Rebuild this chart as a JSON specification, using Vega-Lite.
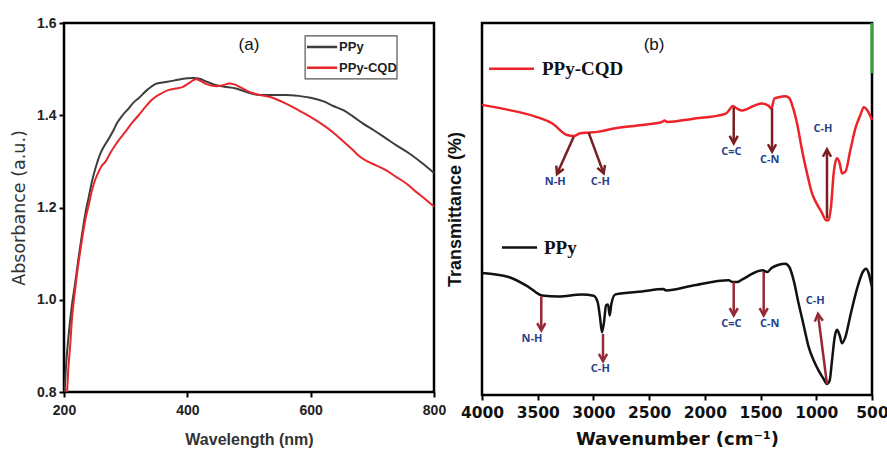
{
  "$schema": "https://vega.github.io/schema/vega-lite/v6.json",
  "background": "white",
  "padding": {"left": 9, "top": 14, "right": 5, "bottom": 2},
  "config": {"view": {"stroke": "black", "strokeWidth": 2.5}},
  "spacing": 48,
  "bounds": "flush",
  "resolve": {"scale": {"x": "independent", "y": "independent", "color": "independent"}},
  "datasets": {
    "uv": [
      {"wavelength": 201, "absorbance": 0.80, "sample": "PPy"},
      {"wavelength": 203, "absorbance": 0.85, "sample": "PPy"},
      {"wavelength": 208, "absorbance": 0.93, "sample": "PPy"},
      {"wavelength": 213, "absorbance": 0.99, "sample": "PPy"},
      {"wavelength": 218, "absorbance": 1.035, "sample": "PPy"},
      {"wavelength": 223, "absorbance": 1.085, "sample": "PPy"},
      {"wavelength": 229, "absorbance": 1.14, "sample": "PPy"},
      {"wavelength": 235, "absorbance": 1.19, "sample": "PPy"},
      {"wavelength": 240, "absorbance": 1.222, "sample": "PPy"},
      {"wavelength": 246, "absorbance": 1.26, "sample": "PPy"},
      {"wavelength": 251, "absorbance": 1.285, "sample": "PPy"},
      {"wavelength": 259, "absorbance": 1.317, "sample": "PPy"},
      {"wavelength": 266, "absorbance": 1.335, "sample": "PPy"},
      {"wavelength": 273, "absorbance": 1.35, "sample": "PPy"},
      {"wavelength": 280, "absorbance": 1.367, "sample": "PPy"},
      {"wavelength": 286, "absorbance": 1.383, "sample": "PPy"},
      {"wavelength": 295, "absorbance": 1.40, "sample": "PPy"},
      {"wavelength": 305, "absorbance": 1.415, "sample": "PPy"},
      {"wavelength": 313, "absorbance": 1.428, "sample": "PPy"},
      {"wavelength": 321, "absorbance": 1.437, "sample": "PPy"},
      {"wavelength": 335, "absorbance": 1.455, "sample": "PPy"},
      {"wavelength": 349, "absorbance": 1.468, "sample": "PPy"},
      {"wavelength": 360, "absorbance": 1.471, "sample": "PPy"},
      {"wavelength": 370, "absorbance": 1.473, "sample": "PPy"},
      {"wavelength": 385, "absorbance": 1.477, "sample": "PPy"},
      {"wavelength": 400, "absorbance": 1.48, "sample": "PPy"},
      {"wavelength": 410, "absorbance": 1.481, "sample": "PPy"},
      {"wavelength": 420, "absorbance": 1.479, "sample": "PPy"},
      {"wavelength": 433, "absorbance": 1.472, "sample": "PPy"},
      {"wavelength": 447, "absorbance": 1.465, "sample": "PPy"},
      {"wavelength": 460, "absorbance": 1.462, "sample": "PPy"},
      {"wavelength": 479, "absorbance": 1.458, "sample": "PPy"},
      {"wavelength": 497, "absorbance": 1.45, "sample": "PPy"},
      {"wavelength": 517, "absorbance": 1.444, "sample": "PPy"},
      {"wavelength": 540, "absorbance": 1.444, "sample": "PPy"},
      {"wavelength": 560, "absorbance": 1.444, "sample": "PPy"},
      {"wavelength": 580, "absorbance": 1.442, "sample": "PPy"},
      {"wavelength": 600, "absorbance": 1.438, "sample": "PPy"},
      {"wavelength": 621, "absorbance": 1.43, "sample": "PPy"},
      {"wavelength": 637, "absorbance": 1.42, "sample": "PPy"},
      {"wavelength": 653, "absorbance": 1.411, "sample": "PPy"},
      {"wavelength": 668, "absorbance": 1.398, "sample": "PPy"},
      {"wavelength": 685, "absorbance": 1.382, "sample": "PPy"},
      {"wavelength": 703, "absorbance": 1.367, "sample": "PPy"},
      {"wavelength": 722, "absorbance": 1.35, "sample": "PPy"},
      {"wavelength": 741, "absorbance": 1.333, "sample": "PPy"},
      {"wavelength": 760, "absorbance": 1.317, "sample": "PPy"},
      {"wavelength": 780, "absorbance": 1.297, "sample": "PPy"},
      {"wavelength": 800, "absorbance": 1.275, "sample": "PPy"},
      {"wavelength": 205, "absorbance": 0.80, "sample": "PPy-CQD"},
      {"wavelength": 207, "absorbance": 0.85, "sample": "PPy-CQD"},
      {"wavelength": 210, "absorbance": 0.90, "sample": "PPy-CQD"},
      {"wavelength": 213, "absorbance": 0.96, "sample": "PPy-CQD"},
      {"wavelength": 217, "absorbance": 1.01, "sample": "PPy-CQD"},
      {"wavelength": 221, "absorbance": 1.055, "sample": "PPy-CQD"},
      {"wavelength": 228, "absorbance": 1.12, "sample": "PPy-CQD"},
      {"wavelength": 235, "absorbance": 1.176, "sample": "PPy-CQD"},
      {"wavelength": 240, "absorbance": 1.205, "sample": "PPy-CQD"},
      {"wavelength": 245, "absorbance": 1.235, "sample": "PPy-CQD"},
      {"wavelength": 250, "absorbance": 1.258, "sample": "PPy-CQD"},
      {"wavelength": 256, "absorbance": 1.277, "sample": "PPy-CQD"},
      {"wavelength": 261, "absorbance": 1.29, "sample": "PPy-CQD"},
      {"wavelength": 267, "absorbance": 1.299, "sample": "PPy-CQD"},
      {"wavelength": 275, "absorbance": 1.318, "sample": "PPy-CQD"},
      {"wavelength": 283, "absorbance": 1.335, "sample": "PPy-CQD"},
      {"wavelength": 291, "absorbance": 1.35, "sample": "PPy-CQD"},
      {"wavelength": 300, "absorbance": 1.365, "sample": "PPy-CQD"},
      {"wavelength": 310, "absorbance": 1.383, "sample": "PPy-CQD"},
      {"wavelength": 321, "absorbance": 1.40, "sample": "PPy-CQD"},
      {"wavelength": 332, "absorbance": 1.418, "sample": "PPy-CQD"},
      {"wavelength": 343, "absorbance": 1.434, "sample": "PPy-CQD"},
      {"wavelength": 356, "absorbance": 1.446, "sample": "PPy-CQD"},
      {"wavelength": 370, "absorbance": 1.455, "sample": "PPy-CQD"},
      {"wavelength": 381, "absorbance": 1.458, "sample": "PPy-CQD"},
      {"wavelength": 392, "absorbance": 1.461, "sample": "PPy-CQD"},
      {"wavelength": 403, "absorbance": 1.47, "sample": "PPy-CQD"},
      {"wavelength": 414, "absorbance": 1.478, "sample": "PPy-CQD"},
      {"wavelength": 422, "absorbance": 1.474, "sample": "PPy-CQD"},
      {"wavelength": 430, "absorbance": 1.468, "sample": "PPy-CQD"},
      {"wavelength": 447, "absorbance": 1.463, "sample": "PPy-CQD"},
      {"wavelength": 458, "absorbance": 1.465, "sample": "PPy-CQD"},
      {"wavelength": 468, "absorbance": 1.469, "sample": "PPy-CQD"},
      {"wavelength": 476, "absorbance": 1.467, "sample": "PPy-CQD"},
      {"wavelength": 484, "absorbance": 1.462, "sample": "PPy-CQD"},
      {"wavelength": 497, "absorbance": 1.453, "sample": "PPy-CQD"},
      {"wavelength": 511, "absorbance": 1.446, "sample": "PPy-CQD"},
      {"wavelength": 533, "absorbance": 1.44, "sample": "PPy-CQD"},
      {"wavelength": 547, "absorbance": 1.433, "sample": "PPy-CQD"},
      {"wavelength": 560, "absorbance": 1.425, "sample": "PPy-CQD"},
      {"wavelength": 580, "absorbance": 1.411, "sample": "PPy-CQD"},
      {"wavelength": 599, "absorbance": 1.397, "sample": "PPy-CQD"},
      {"wavelength": 620, "absorbance": 1.379, "sample": "PPy-CQD"},
      {"wavelength": 637, "absorbance": 1.362, "sample": "PPy-CQD"},
      {"wavelength": 653, "absorbance": 1.343, "sample": "PPy-CQD"},
      {"wavelength": 668, "absorbance": 1.325, "sample": "PPy-CQD"},
      {"wavelength": 680, "absorbance": 1.31, "sample": "PPy-CQD"},
      {"wavelength": 692, "absorbance": 1.30, "sample": "PPy-CQD"},
      {"wavelength": 705, "absorbance": 1.292, "sample": "PPy-CQD"},
      {"wavelength": 722, "absorbance": 1.281, "sample": "PPy-CQD"},
      {"wavelength": 738, "absorbance": 1.267, "sample": "PPy-CQD"},
      {"wavelength": 755, "absorbance": 1.252, "sample": "PPy-CQD"},
      {"wavelength": 770, "absorbance": 1.235, "sample": "PPy-CQD"},
      {"wavelength": 785, "absorbance": 1.219, "sample": "PPy-CQD"},
      {"wavelength": 800, "absorbance": 1.202, "sample": "PPy-CQD"}
    ],
    "ftir": [
      {"wn": 4000, "t": 86.8, "sample": "PPy-CQD"},
      {"wn": 3761, "t": 85.3, "sample": "PPy-CQD"},
      {"wn": 3521, "t": 83.3, "sample": "PPy-CQD"},
      {"wn": 3372, "t": 81.3, "sample": "PPy-CQD"},
      {"wn": 3237, "t": 77.8, "sample": "PPy-CQD"},
      {"wn": 3177, "t": 77.5, "sample": "PPy-CQD"},
      {"wn": 3118, "t": 78.3, "sample": "PPy-CQD"},
      {"wn": 3043, "t": 78.5, "sample": "PPy-CQD"},
      {"wn": 2953, "t": 78.8, "sample": "PPy-CQD"},
      {"wn": 2803, "t": 79.8, "sample": "PPy-CQD"},
      {"wn": 2564, "t": 80.8, "sample": "PPy-CQD"},
      {"wn": 2385, "t": 81.7, "sample": "PPy-CQD"},
      {"wn": 2361, "t": 82.1, "sample": "PPy-CQD"},
      {"wn": 2337, "t": 81.7, "sample": "PPy-CQD"},
      {"wn": 2115, "t": 82.6, "sample": "PPy-CQD"},
      {"wn": 1816, "t": 84.1, "sample": "PPy-CQD"},
      {"wn": 1780, "t": 85.3, "sample": "PPy-CQD"},
      {"wn": 1750, "t": 86.5, "sample": "PPy-CQD"},
      {"wn": 1711, "t": 85.7, "sample": "PPy-CQD"},
      {"wn": 1667, "t": 85.1, "sample": "PPy-CQD"},
      {"wn": 1547, "t": 86.7, "sample": "PPy-CQD"},
      {"wn": 1487, "t": 87.2, "sample": "PPy-CQD"},
      {"wn": 1427, "t": 86.5, "sample": "PPy-CQD"},
      {"wn": 1403, "t": 85.7, "sample": "PPy-CQD"},
      {"wn": 1376, "t": 88.7, "sample": "PPy-CQD"},
      {"wn": 1338, "t": 89.1, "sample": "PPy-CQD"},
      {"wn": 1278, "t": 89.4, "sample": "PPy-CQD"},
      {"wn": 1242, "t": 88.8, "sample": "PPy-CQD"},
      {"wn": 1212, "t": 86.3, "sample": "PPy-CQD"},
      {"wn": 1173, "t": 81.3, "sample": "PPy-CQD"},
      {"wn": 1128, "t": 73.3, "sample": "PPy-CQD"},
      {"wn": 1083, "t": 66.3, "sample": "PPy-CQD"},
      {"wn": 1038, "t": 60.3, "sample": "PPy-CQD"},
      {"wn": 994, "t": 57.1, "sample": "PPy-CQD"},
      {"wn": 949, "t": 54.5, "sample": "PPy-CQD"},
      {"wn": 913, "t": 52.3, "sample": "PPy-CQD"},
      {"wn": 889, "t": 52.3, "sample": "PPy-CQD"},
      {"wn": 868, "t": 56.3, "sample": "PPy-CQD"},
      {"wn": 844, "t": 66.3, "sample": "PPy-CQD"},
      {"wn": 814, "t": 70.8, "sample": "PPy-CQD"},
      {"wn": 790, "t": 69.3, "sample": "PPy-CQD"},
      {"wn": 769, "t": 66.3, "sample": "PPy-CQD"},
      {"wn": 739, "t": 66.8, "sample": "PPy-CQD"},
      {"wn": 694, "t": 73.3, "sample": "PPy-CQD"},
      {"wn": 649, "t": 79.8, "sample": "PPy-CQD"},
      {"wn": 604, "t": 83.8, "sample": "PPy-CQD"},
      {"wn": 574, "t": 86.1, "sample": "PPy-CQD"},
      {"wn": 544, "t": 85.3, "sample": "PPy-CQD"},
      {"wn": 520, "t": 83.8, "sample": "PPy-CQD"},
      {"wn": 500, "t": 82.3, "sample": "PPy-CQD"},
      {"wn": 4000, "t": 36.5, "sample": "PPy"},
      {"wn": 3761, "t": 35.3, "sample": "PPy"},
      {"wn": 3581, "t": 32.3, "sample": "PPy"},
      {"wn": 3462, "t": 29.8, "sample": "PPy"},
      {"wn": 3312, "t": 29.5, "sample": "PPy"},
      {"wn": 3103, "t": 30.1, "sample": "PPy"},
      {"wn": 2998, "t": 29.7, "sample": "PPy"},
      {"wn": 2962, "t": 27.8, "sample": "PPy"},
      {"wn": 2941, "t": 23.3, "sample": "PPy"},
      {"wn": 2923, "t": 18.8, "sample": "PPy"},
      {"wn": 2905, "t": 21.8, "sample": "PPy"},
      {"wn": 2887, "t": 26.8, "sample": "PPy"},
      {"wn": 2869, "t": 27.1, "sample": "PPy"},
      {"wn": 2854, "t": 23.8, "sample": "PPy"},
      {"wn": 2839, "t": 27.3, "sample": "PPy"},
      {"wn": 2803, "t": 30.1, "sample": "PPy"},
      {"wn": 2564, "t": 31.0, "sample": "PPy"},
      {"wn": 2370, "t": 31.7, "sample": "PPy"},
      {"wn": 2349, "t": 31.3, "sample": "PPy"},
      {"wn": 2115, "t": 32.7, "sample": "PPy"},
      {"wn": 1786, "t": 34.3, "sample": "PPy"},
      {"wn": 1750, "t": 33.8, "sample": "PPy"},
      {"wn": 1711, "t": 33.8, "sample": "PPy"},
      {"wn": 1667, "t": 34.5, "sample": "PPy"},
      {"wn": 1517, "t": 37.1, "sample": "PPy"},
      {"wn": 1481, "t": 37.3, "sample": "PPy"},
      {"wn": 1442, "t": 36.8, "sample": "PPy"},
      {"wn": 1397, "t": 38.1, "sample": "PPy"},
      {"wn": 1278, "t": 39.3, "sample": "PPy"},
      {"wn": 1242, "t": 38.3, "sample": "PPy"},
      {"wn": 1203, "t": 34.3, "sample": "PPy"},
      {"wn": 1158, "t": 27.3, "sample": "PPy"},
      {"wn": 1113, "t": 20.8, "sample": "PPy"},
      {"wn": 1068, "t": 14.3, "sample": "PPy"},
      {"wn": 1023, "t": 10.3, "sample": "PPy"},
      {"wn": 979, "t": 7.3, "sample": "PPy"},
      {"wn": 934, "t": 4.8, "sample": "PPy"},
      {"wn": 904, "t": 3.3, "sample": "PPy"},
      {"wn": 880, "t": 4.3, "sample": "PPy"},
      {"wn": 859, "t": 10.3, "sample": "PPy"},
      {"wn": 835, "t": 17.3, "sample": "PPy"},
      {"wn": 814, "t": 19.5, "sample": "PPy"},
      {"wn": 790, "t": 17.8, "sample": "PPy"},
      {"wn": 769, "t": 15.5, "sample": "PPy"},
      {"wn": 739, "t": 17.3, "sample": "PPy"},
      {"wn": 694, "t": 23.8, "sample": "PPy"},
      {"wn": 634, "t": 31.8, "sample": "PPy"},
      {"wn": 583, "t": 36.8, "sample": "PPy"},
      {"wn": 553, "t": 37.8, "sample": "PPy"},
      {"wn": 529, "t": 36.3, "sample": "PPy"},
      {"wn": 511, "t": 33.8, "sample": "PPy"},
      {"wn": 500, "t": 32.3, "sample": "PPy"}
    ],
    "arrows": [
      {"wn": 3177, "t": 77.3, "wn2": 3327, "t2": 66.1, "angle": 24, "sample": "PPy-CQD"},
      {"wn": 3043, "t": 78.5, "wn2": 2908, "t2": 66.3, "angle": -20, "sample": "PPy-CQD"},
      {"wn": 1741, "t": 86.1, "wn2": 1741, "t2": 75.3, "angle": 0, "sample": "PPy-CQD"},
      {"wn": 1397, "t": 85.8, "wn2": 1397, "t2": 72.8, "angle": 0, "sample": "PPy-CQD"},
      {"wn": 904, "t": 52.8, "wn2": 904, "t2": 73.5, "angle": 180, "sample": "PPy-CQD"},
      {"wn": 3468, "t": 29.5, "wn2": 3468, "t2": 19.3, "angle": 0, "sample": "PPy"},
      {"wn": 2914, "t": 18.3, "wn2": 2914, "t2": 10.1, "angle": 0, "sample": "PPy"},
      {"wn": 1741, "t": 33.8, "wn2": 1741, "t2": 23.8, "angle": 0, "sample": "PPy"},
      {"wn": 1472, "t": 36.8, "wn2": 1472, "t2": 23.8, "angle": 0, "sample": "PPy"},
      {"wn": 904, "t": 3.3, "wn2": 985, "t2": 24.3, "angle": 173, "sample": "PPy"}
    ],
    "bonds": [
      {"wn": 3342, "t": 63.8, "label": "N-H"},
      {"wn": 2938, "t": 63.8, "label": "C-H"},
      {"wn": 1762, "t": 72.8, "label": "C=C"},
      {"wn": 1418, "t": 70.3, "label": "C-N"},
      {"wn": 940, "t": 79.5, "label": "C-H"},
      {"wn": 3551, "t": 16.8, "label": "N-H"},
      {"wn": 2938, "t": 7.8, "label": "C-H"},
      {"wn": 1762, "t": 21.3, "label": "C=C"},
      {"wn": 1418, "t": 21.3, "label": "C-N"},
      {"wn": 1009, "t": 28.0, "label": "C-H"}
    ]
  },
  "hconcat": [
    {
      "width": 370,
      "height": 369,
      "layer": [
        {
          "data": {"name": "uv"},
          "mark": {"type": "line", "strokeWidth": 2, "interpolate": "monotone"},
          "encoding": {
            "x": {"field": "wavelength", "type": "quantitative",
              "scale": {"domain": [200, 800], "nice": false, "zero": false},
              "axis": {"values": [200, 400, 600, 800], "title": "Wavelength (nm)", "domain": false, "grid": false, "labelFlush": false,
                "tickSize": 5, "tickWidth": 2, "tickColor": "black",
                "labelFont": "Liberation Sans", "labelFontWeight": "bold", "labelFontSize": 14, "labelColor": "#222", "labelPadding": 6,
                "titleFont": "Liberation Sans", "titleFontWeight": "bold", "titleFontSize": 16, "titleColor": "#333", "titlePadding": 14}},
            "y": {"field": "absorbance", "type": "quantitative",
              "scale": {"domain": [0.8, 1.6], "nice": false, "zero": false},
              "axis": {"values": [0.8, 1.0, 1.2, 1.4, 1.6], "format": ".1f", "title": "Absorbance (a.u.)", "domain": false, "grid": false, "labelFlush": false,
                "tickSize": 5, "tickWidth": 2, "tickColor": "black",
                "labelFont": "Liberation Sans", "labelFontWeight": "bold", "labelFontSize": 14, "labelColor": "#222", "labelPadding": 3,
                "titleFont": "DejaVu Sans", "titleFontWeight": "normal", "titleFontSize": 17.5, "titleColor": "#333", "titlePadding": 8}},
            "color": {"field": "sample", "type": "nominal",
              "scale": {"domain": ["PPy", "PPy-CQD"], "range": ["#3d3d3d", "#e8272c"]}, "legend": null}
          }
        },
        {
          "data": {"values": [{"wavelength": 591, "wl2": 740, "absorbance": 1.572, "ab2": 1.479}]},
          "mark": {"type": "rect", "fill": "white", "stroke": "#555", "strokeWidth": 1.2},
          "encoding": {
            "x": {"field": "wavelength", "type": "quantitative"},
            "x2": {"field": "wl2"},
            "y": {"field": "absorbance", "type": "quantitative"},
            "y2": {"field": "ab2"}
          }
        },
        {
          "data": {"values": [
            {"wavelength": 594, "wl2": 643, "absorbance": 1.548, "sample": "PPy"},
            {"wavelength": 594, "wl2": 643, "absorbance": 1.503, "sample": "PPy-CQD"}
          ]},
          "mark": {"type": "rule", "strokeWidth": 2.5},
          "encoding": {
            "x": {"field": "wavelength", "type": "quantitative"},
            "x2": {"field": "wl2"},
            "y": {"field": "absorbance", "type": "quantitative"},
            "color": {"field": "sample", "type": "nominal", "legend": null}
          }
        },
        {
          "data": {"values": [
            {"wavelength": 646, "absorbance": 1.548, "txt": "PPy"},
            {"wavelength": 646, "absorbance": 1.503, "txt": "PPy-CQD"}
          ]},
          "mark": {"type": "text", "font": "Liberation Sans", "fontWeight": "bold", "fontSize": 13, "align": "left", "baseline": "middle", "color": "#222"},
          "encoding": {
            "x": {"field": "wavelength", "type": "quantitative"},
            "y": {"field": "absorbance", "type": "quantitative"},
            "text": {"field": "txt"}
          }
        },
        {
          "data": {"values": [{"wavelength": 500, "absorbance": 1.552, "txt": "(a)"}]},
          "mark": {"type": "text", "font": "Liberation Sans", "fontSize": 17, "color": "#111"},
          "encoding": {
            "x": {"field": "wavelength", "type": "quantitative"},
            "y": {"field": "absorbance", "type": "quantitative"},
            "text": {"field": "txt"}
          }
        }
      ]
    },
    {
      "width": 390,
      "height": 372,
      "layer": [
        {
          "data": {"name": "ftir"},
          "mark": {"type": "line", "strokeWidth": 2.5, "interpolate": "monotone"},
          "encoding": {
            "x": {"field": "wn", "type": "quantitative",
              "scale": {"domain": [500, 4000], "reverse": true, "nice": false, "zero": false},
              "axis": {"values": [500, 1000, 1500, 2000, 2500, 3000, 3500, 4000], "format": "d", "labelOverlap": false, "labelFlush": false,
                "title": "Wavenumber (cm⁻¹)", "domain": false, "grid": false,
                "tickSize": 5, "tickWidth": 2, "tickColor": "black",
                "labelFont": "DejaVu Sans", "labelFontWeight": "bold", "labelFontSize": 15.5, "labelColor": "#111", "labelPadding": 5,
                "titleFont": "DejaVu Sans", "titleFontWeight": "bold", "titleFontSize": 18, "titleColor": "#111", "titlePadding": 10}},
            "y": {"field": "t", "type": "quantitative",
              "scale": {"domain": [0, 111.3], "nice": false, "zero": false},
              "axis": {"title": "Transmittance (%)", "labels": false, "ticks": false, "domain": false, "grid": false,
                "titleFont": "Liberation Sans", "titleFontWeight": "bold", "titleFontSize": 18, "titleColor": "#111", "titlePadding": 18}},
            "color": {"field": "sample", "type": "nominal",
              "scale": {"domain": ["PPy-CQD", "PPy"], "range": ["#ee2229", "#111111"]}, "legend": null}
          }
        },
        {
          "data": {"name": "arrows"},
          "transform": [{"filter": "datum.sample === 'PPy-CQD'"}],
          "mark": {"type": "rule", "strokeWidth": 2.5, "color": "#7a1e22"},
          "encoding": {
            "x": {"field": "wn", "type": "quantitative"},
            "y": {"field": "t", "type": "quantitative"},
            "x2": {"field": "wn2"},
            "y2": {"field": "t2"}
          }
        },
        {
          "data": {"name": "arrows"},
          "transform": [{"filter": "datum.sample === 'PPy'"}],
          "mark": {"type": "rule", "strokeWidth": 2.5, "color": "#952a36"},
          "encoding": {
            "x": {"field": "wn", "type": "quantitative"},
            "y": {"field": "t", "type": "quantitative"},
            "x2": {"field": "wn2"},
            "y2": {"field": "t2"}
          }
        },
        {
          "data": {"name": "arrows"},
          "transform": [{"filter": "datum.sample === 'PPy-CQD'"}],
          "mark": {"type": "point", "shape": "M-0.55,-1L0,0L0.55,-1", "filled": false, "size": 220, "strokeWidth": 2.5, "color": "#7a1e22", "opacity": 1},
          "encoding": {
            "x": {"field": "wn2", "type": "quantitative"},
            "y": {"field": "t2", "type": "quantitative"},
            "angle": {"field": "angle", "type": "quantitative", "scale": null}
          }
        },
        {
          "data": {"name": "arrows"},
          "transform": [{"filter": "datum.sample === 'PPy'"}],
          "mark": {"type": "point", "shape": "M-0.55,-1L0,0L0.55,-1", "filled": false, "size": 220, "strokeWidth": 2.5, "color": "#952a36", "opacity": 1},
          "encoding": {
            "x": {"field": "wn2", "type": "quantitative"},
            "y": {"field": "t2", "type": "quantitative"},
            "angle": {"field": "angle", "type": "quantitative", "scale": null}
          }
        },
        {
          "data": {"name": "bonds"},
          "mark": {"type": "text", "font": "Open Sans", "fontWeight": "bold", "fontSize": 11, "color": "#27408b"},
          "encoding": {
            "x": {"field": "wn", "type": "quantitative"},
            "y": {"field": "t", "type": "quantitative"},
            "text": {"field": "label"}
          }
        },
        {
          "data": {"values": [
            {"wn": 3937, "wn2": 3533, "t": 97.6, "sample": "PPy-CQD"},
            {"wn": 3821, "wn2": 3506, "t": 44.1, "sample": "PPy"}
          ]},
          "mark": {"type": "rule", "strokeWidth": 2.5},
          "encoding": {
            "x": {"field": "wn", "type": "quantitative"},
            "x2": {"field": "wn2"},
            "y": {"field": "t", "type": "quantitative"},
            "color": {"field": "sample", "type": "nominal", "legend": null}
          }
        },
        {
          "data": {"values": [
            {"wn": 3462, "t": 97.6, "label": "PPy-CQD"},
            {"wn": 3444, "t": 44.1, "label": "PPy"}
          ]},
          "mark": {"type": "text", "font": "Liberation Serif", "fontWeight": "bold", "fontSize": 19, "align": "left", "baseline": "middle", "color": "#111"},
          "encoding": {
            "x": {"field": "wn", "type": "quantitative"},
            "y": {"field": "t", "type": "quantitative"},
            "text": {"field": "label"}
          }
        },
        {
          "data": {"values": [{"wn": 2456, "t": 104.8, "label": "(b)"}]},
          "mark": {"type": "text", "font": "Liberation Sans", "fontSize": 17, "color": "#111"},
          "encoding": {
            "x": {"field": "wn", "type": "quantitative"},
            "y": {"field": "t", "type": "quantitative"},
            "text": {"field": "label"}
          }
        },
        {
          "data": {"values": [{"wn": 500, "t": 111.3, "t2": 96.3}]},
          "mark": {"type": "rule", "strokeWidth": 3, "color": "#36a33e"},
          "encoding": {
            "x": {"field": "wn", "type": "quantitative"},
            "y": {"field": "t", "type": "quantitative"},
            "y2": {"field": "t2"}
          }
        }
      ]
    }
  ]
}
